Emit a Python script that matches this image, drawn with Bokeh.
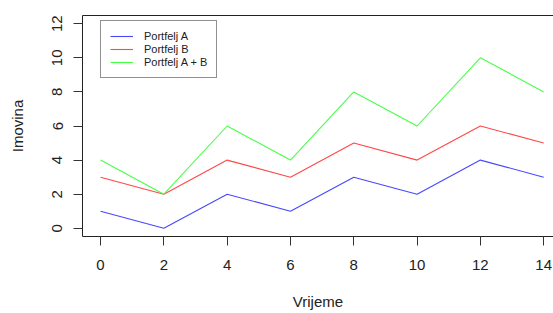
from bokeh.plotting import figure
from bokeh.models import Range1d, LinearAxis, FixedTicker, Legend, LegendItem
from bokeh.embed import file_html
from bokeh.resources import INLINE

vrijeme = [0, 2, 4, 6, 8, 10, 12, 14]
portfelj_a = [1, 0, 2, 1, 3, 2, 4, 3]
portfelj_b = [3, 2, 4, 3, 5, 4, 6, 5]
portfelj_ab = [4, 2, 6, 4, 8, 6, 10, 8]
x_ticks = [0, 2, 4, 6, 8, 10, 12, 14]
y_ticks = [0, 2, 4, 6, 8, 10, 12]

FONT = "Liberation Sans"

p = figure(width=553, height=313, output_backend="svg", toolbar_location=None,
           x_range=Range1d(-0.57, 14.31), y_range=Range1d(-0.48, 12.48),
           min_border_left=82, min_border_right=0, min_border_top=15, min_border_bottom=77)
p.grid.visible = False
p.outline_line_color = None
p.background_fill_color = "white"

ra = p.line(vrijeme, portfelj_a, line_color="#4848ff", line_width=1.1)
rb = p.line(vrijeme, portfelj_b, line_color="#ff4848", line_width=1.1)
rab = p.line(vrijeme, portfelj_ab, line_color="#48ff48", line_width=1.1)

for ax in (p.xaxis[0], p.yaxis[0]):
    ax.axis_line_color = "#222222"
    ax.major_tick_line_color = "#333333"
    ax.major_tick_out = 9
    ax.major_tick_in = 0
    ax.minor_tick_line_color = None
    ax.major_label_text_font = FONT
    ax.major_label_text_font_size = "15px"
    ax.major_label_text_color = "#222222"
    ax.axis_label_text_font = FONT
    ax.axis_label_text_font_size = "15px"
    ax.axis_label_text_font_style = "normal"
    ax.axis_label_text_color = "#222222"

p.xaxis[0].ticker = FixedTicker(ticks=x_ticks)
p.yaxis[0].ticker = FixedTicker(ticks=y_ticks)
p.xaxis[0].axis_label = "Vrijeme"
p.yaxis[0].axis_label = "Imovina"
p.yaxis[0].major_label_orientation = "vertical"
p.xaxis[0].major_label_standoff = 14
p.xaxis[0].axis_label_standoff = 20
p.yaxis[0].major_label_standoff = 11
p.yaxis[0].axis_label_standoff = 24

top = LinearAxis(ticker=FixedTicker(ticks=[]), major_tick_line_color=None,
                 minor_tick_line_color=None, axis_line_color="#222222")
p.add_layout(top, "above")

legend = Legend(items=[LegendItem(label="Portfelj A", renderers=[ra]),
                       LegendItem(label="Portfelj B", renderers=[rb]),
                       LegendItem(label="Portfelj A + B", renderers=[rab])],
                location=(18, 158), margin=0, padding=9, spacing=1,
                glyph_width=23, glyph_height=12, label_height=12, label_standoff=11,
                label_text_font=FONT, label_text_font_size="11px",
                label_text_color="#222222",
                border_line_color="#222222", border_line_width=1,
                background_fill_color="white", background_fill_alpha=1)
p.add_layout(legend, "center")

open("out.html", "w").write(file_html(p, INLINE))
